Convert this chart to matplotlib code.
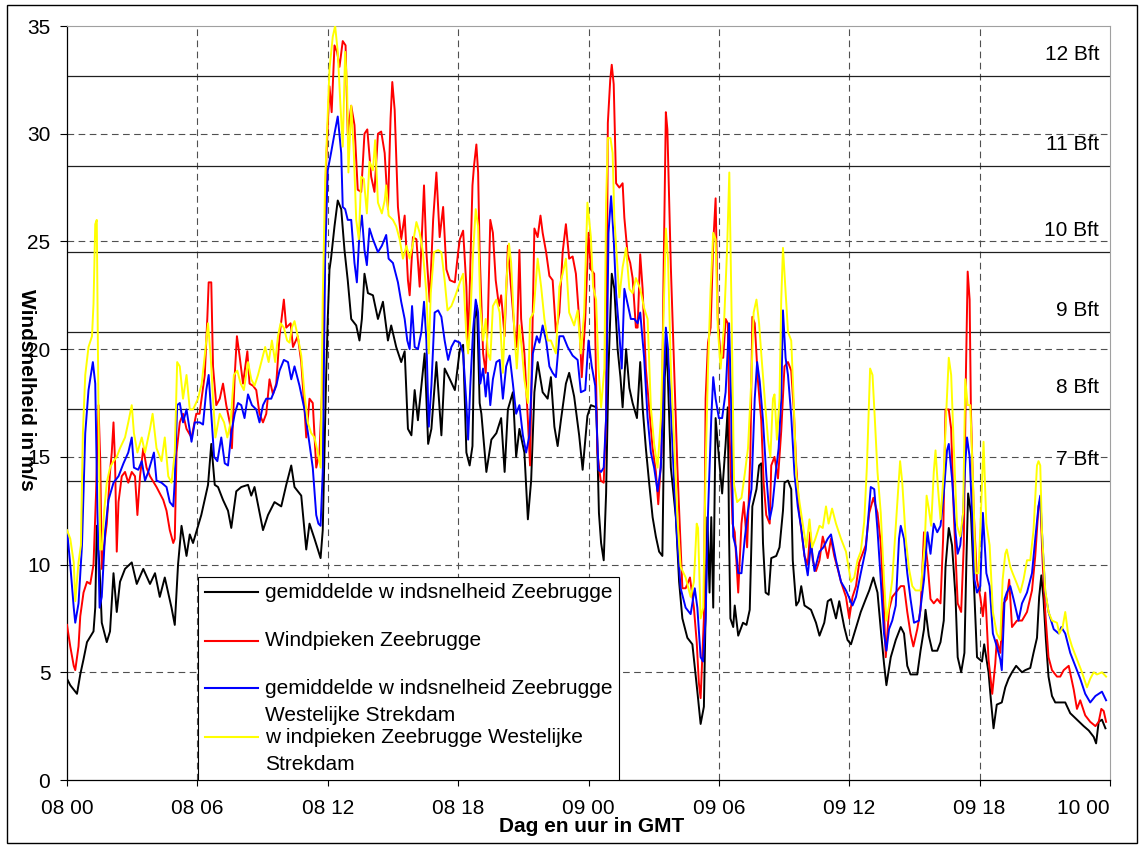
import matplotlib.pyplot as plt
import matplotlib.transforms as mtransforms
from matplotlib.patches import Rectangle

plt.rcParams['font.family'] = ['Liberation Sans', 'DejaVu Sans']
plt.rcParams['font.size'] = 15

# uren na 08 00 GMT
t_mean_zb = [0.0, 0.15, 0.46, 0.61, 0.76, 0.92, 1.22, 1.30, 1.37, 1.50, 1.60, 1.83, 1.98, 2.14, 2.29, 2.44, 2.67, 2.98, 3.21, 3.51, 3.82, 4.05, 4.27, 4.50, 4.81, 4.96, 5.11, 5.27, 5.50, 5.65, 5.80,
             6.18, 6.49, 6.64, 6.80, 6.95, 7.18, 7.41, 7.56, 7.79, 8.02, 8.33, 8.48, 8.63, 9.02, 9.25, 9.55, 9.86, 10.09, 10.32, 10.47, 10.78, 11.01, 11.16, 11.39, 11.67, 11.77, 11.93,
             12.0, 12.08, 12.15, 12.31, 12.46, 12.62, 12.77, 12.92, 13.08, 13.31, 13.46, 13.57, 13.69, 13.85, 14.08, 14.31, 14.54, 14.77, 14.92, 15.15, 15.38, 15.54, 15.69, 15.85, 16.0, 16.15, 16.31, 16.46, 16.62, 16.77, 17.0, 17.23, 17.38, 17.62, 17.85, 18.08,
             18.23, 18.38, 18.53, 18.66, 18.76, 18.87, 18.99, 19.07, 19.22, 19.30, 19.53, 19.76, 19.98, 20.14, 20.29, 20.52, 20.67, 20.82, 21.05, 21.21, 21.36, 21.51, 21.66, 21.89, 22.12, 22.27, 22.43, 22.58, 22.73, 22.96, 23.11, 23.34, 23.57, 23.73, 23.95, 24.11, 24.36, 24.48, 24.58, 24.70,
             24.81, 24.92, 25.07, 25.19, 25.34, 25.47, 25.57, 25.73, 25.88, 26.03, 26.23, 26.38, 26.49, 26.64, 26.79, 26.95, 27.10, 27.25, 27.40, 27.51, 27.60, 27.79, 28.02, 28.17, 28.32, 28.55, 28.78, 29.01, 29.16, 29.31, 29.47, 29.57, 29.65, 29.74, 29.85, 30.0, 30.15, 30.31, 30.41,
             30.47, 30.53, 30.66, 30.73, 30.89, 31.11, 31.27, 31.42, 31.54, 31.73, 31.85, 31.95, 32.03, 32.15, 32.29, 32.41, 32.64, 32.79, 32.95, 33.02, 33.18, 33.33, 33.40, 33.56, 33.68, 33.79, 33.94, 34.24, 34.47, 34.63, 34.85, 35.01, 35.16, 35.39, 35.54, 35.77, 35.92, 36.08, 36.23,
             36.53, 36.76, 36.92, 37.11, 37.30, 37.45, 37.60, 37.71, 37.91, 38.14, 38.37, 38.52, 38.67, 38.82, 39.13, 39.28, 39.44, 39.51, 39.66, 39.82, 40.05, 40.20, 40.35, 40.43, 40.58, 40.73, 40.89, 40.99, 41.15, 41.30, 41.39, 41.47, 41.60, 41.73, 41.88, 42.11, 42.21, 42.41, 42.52, 42.64, 42.79,
             43.02, 43.18, 43.33, 43.49, 43.68, 43.95, 44.10, 44.33, 44.48, 44.64, 44.74, 44.84, 44.94, 45.05, 45.17, 45.33, 45.48, 45.71, 45.94, 46.17, 46.48, 46.79, 47.02, 47.25, 47.36, 47.48, 47.63, 47.79]
mean_zb = [4.7, 4.4, 4.0, 4.9, 5.6, 6.4, 6.9, 8.0, 11.8, 9.8, 7.3, 6.4, 6.9, 9.6, 7.8, 9.2, 9.8, 10.1, 9.1, 9.8, 9.1, 9.6, 8.5, 9.4, 8.0, 7.2, 10.0, 11.8, 10.4, 11.4, 11.0,
           12.3, 13.7, 15.6, 13.7, 13.6, 13.0, 12.5, 11.7, 13.4, 13.6, 13.7, 13.2, 13.6, 11.6, 12.3, 12.9, 12.7, 13.7, 14.6, 13.6, 13.2, 10.7, 11.9, 11.2, 10.3, 11.6, 18.9,
           21.4, 23.7, 24.2, 25.7, 26.9, 26.5, 24.6, 23.2, 21.4, 21.1, 20.4, 21.4, 23.5, 22.6, 22.5, 21.4, 22.2, 20.4, 21.1, 20.1, 19.4, 19.9, 16.3, 16.0, 18.1, 16.7, 18.3, 19.8, 15.6, 16.3, 19.4, 16.0, 19.1, 18.6, 18.1, 20.0,
           20.2, 15.2, 14.6, 15.5, 21.4, 22.0, 17.5, 17.0, 15.2, 14.3, 15.8, 16.1, 16.8, 14.3, 17.2, 18.0, 15.0, 16.3, 15.2, 12.1, 13.9, 18.0, 19.4, 18.0, 17.7, 18.7, 16.4, 15.5, 16.7, 18.4, 18.9, 17.8, 16.0, 14.4, 16.9, 17.4, 17.3, 12.4, 11.0, 10.2,
           13.3, 19.1, 23.5, 22.8, 20.0, 18.7, 17.3, 20.0, 18.2, 17.5, 16.8, 19.4, 17.3, 15.4, 13.8, 12.2, 11.3, 10.6, 10.4, 18.7, 20.3, 14.5, 12.2, 9.2, 7.5, 6.6, 6.3, 4.1, 2.6, 3.4, 12.2, 8.7, 12.2, 8.0, 16.8, 15.0, 13.3, 15.6, 17.3,
           11.3, 7.5, 7.1, 8.1, 6.7, 7.3, 7.2, 7.9, 12.7, 13.5, 14.6, 14.7, 11.0, 8.7, 8.6, 10.3, 10.4, 10.8, 12.5, 13.8, 13.9, 13.5, 10.2, 8.1, 8.3, 9.0, 8.1, 7.9, 7.3, 6.7, 7.3, 8.3, 8.4, 7.5, 8.3, 7.1, 6.5, 6.3, 6.8,
           7.8, 8.4, 8.8, 9.4, 8.7, 7.0, 5.4, 4.4, 5.7, 6.5, 7.1, 6.8, 5.3, 4.9, 4.9, 6.0, 7.0, 7.9, 6.7, 6.0, 6.0, 6.4, 7.4, 9.9, 11.7, 10.9, 8.5, 5.7, 5.0, 5.9, 10.1, 13.3, 12.4, 9.3, 5.7, 5.5, 6.3, 5.0, 3.7, 2.4, 3.5,
           3.6, 4.3, 4.7, 5.0, 5.3, 5.0, 5.1, 5.2, 5.9, 6.6, 8.5, 9.5, 8.4, 6.5, 4.8, 3.9, 3.6, 3.6, 3.6, 3.1, 2.8, 2.5, 2.3, 2.0, 1.7, 2.7, 2.8, 2.4]

t_gust_zb = [0.0, 0.15, 0.31, 0.38, 0.53, 0.61, 0.76, 0.92, 1.07, 1.22, 1.34, 1.45, 1.53, 1.60, 1.71, 1.83, 1.98, 2.06, 2.14, 2.21, 2.29, 2.37, 2.52, 2.67, 2.82, 2.98, 3.13, 3.24, 3.36, 3.51, 3.66, 3.82, 4.12, 4.43, 4.58, 4.73, 4.89, 4.96, 5.04, 5.19, 5.34, 5.50, 5.73, 5.95,
             6.10, 6.34, 6.46, 6.52, 6.64, 6.72, 6.87, 7.03, 7.18, 7.33, 7.49, 7.59, 7.72, 7.82, 7.94, 8.10, 8.30, 8.40, 8.56, 8.71, 8.86, 9.02, 9.17, 9.32, 9.48, 9.63, 9.78, 9.98, 10.09, 10.29, 10.40, 10.62, 10.78, 10.93, 11.01, 11.16, 11.31, 11.47, 11.62, 11.77, 11.92,
             12.08, 12.18, 12.31, 12.43, 12.54, 12.69, 12.82, 12.92, 13.08, 13.23, 13.38, 13.54, 13.69, 13.82, 14.0, 14.15, 14.31, 14.46, 14.62, 14.77, 14.89, 14.97, 15.08, 15.23, 15.38, 15.54, 15.69, 15.77, 15.92, 16.08, 16.23, 16.43, 16.54, 16.69, 16.85, 17.0, 17.15, 17.31, 17.46, 17.62, 17.85, 18.0,
             18.08, 18.23, 18.38, 18.46, 18.53, 18.66, 18.73, 18.84, 18.92, 18.99, 19.15, 19.27, 19.37, 19.48, 19.60, 19.73, 19.88, 19.98, 20.14, 20.29, 20.44, 20.60, 20.70, 20.82, 20.90, 21.05, 21.21, 21.31, 21.40, 21.51, 21.66, 21.79, 21.89, 22.05, 22.20, 22.35, 22.50, 22.66, 22.81, 22.96, 23.11, 23.27, 23.42, 23.57, 23.69, 23.85, 24.0, 24.11, 24.26,
             24.41, 24.56, 24.70, 24.81, 24.89, 25.0, 25.07, 25.16, 25.27, 25.42, 25.57, 25.65, 25.80, 25.92, 26.03, 26.18, 26.26, 26.38, 26.49, 26.64, 26.79, 26.95, 27.10, 27.21, 27.36, 27.45, 27.56, 27.63, 27.79, 27.94, 28.09, 28.32, 28.47, 28.67, 28.85, 28.98, 29.08, 29.16, 29.31, 29.39, 29.50, 29.62, 29.74, 29.85, 29.95, 30.08, 30.20, 30.31, 30.41,
             30.50, 30.63, 30.73, 30.89, 31.04, 31.15, 31.30, 31.45, 31.54, 31.65, 31.80, 31.95, 32.06, 32.18, 32.34, 32.41, 32.56, 32.72, 32.87, 33.02, 33.18, 33.33, 33.44, 33.56, 33.71, 33.94, 34.09, 34.20, 34.32, 34.47, 34.63, 34.78, 34.90, 35.01, 35.16, 35.31, 35.47, 35.62, 35.85, 36.0, 36.15,
             36.31, 36.46, 36.61, 36.76, 36.92, 37.11, 37.30, 37.45, 37.60, 37.68, 37.83, 37.98, 38.14, 38.37, 38.52, 38.67, 38.82, 38.95, 39.13, 39.28, 39.44, 39.60, 39.74, 39.89, 40.05, 40.20, 40.32, 40.43, 40.58, 40.69, 40.81, 40.99, 41.15, 41.27, 41.37, 41.45, 41.54, 41.60, 41.73, 41.88, 42.03, 42.15, 42.26, 42.41, 42.58, 42.72,
             42.79, 42.95, 43.10, 43.25, 43.36, 43.49, 43.72, 43.95, 44.18, 44.41, 44.56, 44.71, 44.79, 44.90, 45.02, 45.17, 45.33, 45.56, 45.71, 45.87, 46.10, 46.33, 46.48, 46.63, 46.86, 47.09, 47.33, 47.48, 47.60, 47.71, 47.82]
gust_zb = [7.2, 6.2, 5.3, 5.1, 6.2, 7.6, 8.7, 9.2, 9.1, 10.0, 13.4, 17.4, 14.8, 9.8, 10.9, 11.9, 14.3, 15.2, 16.6, 14.8, 10.6, 12.9, 14.1, 14.3, 13.8, 14.3, 14.1, 12.3, 14.1, 15.4, 14.5, 14.1, 13.6, 13.0, 12.5, 11.6, 11.0, 11.2, 15.2, 16.6, 17.0, 16.3, 15.9, 17.0,
           17.0, 18.8, 21.5, 23.1, 23.1, 19.2, 17.4, 17.7, 18.4, 17.4, 16.6, 15.4, 18.8, 20.6, 19.7, 18.4, 19.9, 18.4, 18.3, 18.1, 17.0, 16.6, 17.0, 18.6, 17.9, 18.4, 20.6, 22.3, 21.0, 21.2, 20.1, 20.6, 19.4, 17.2, 15.9, 17.7, 17.5, 14.5, 15.2, 18.8, 28.5,
           32.2, 31.0, 34.1, 33.8, 33.1, 34.3, 34.1, 30.0, 31.3, 30.4, 27.4, 27.3, 30.0, 30.2, 28.0, 27.3, 30.0, 30.1, 29.1, 26.5, 30.7, 32.4, 31.1, 26.6, 25.1, 26.2, 23.2, 22.5, 25.2, 25.1, 22.9, 27.6, 24.5, 22.2, 26.0, 28.2, 25.2, 26.6, 23.7, 23.2, 23.1, 24.5,
           25.1, 25.5, 22.9, 20.0, 22.6, 27.6, 28.5, 29.5, 28.2, 24.5, 19.8, 18.9, 21.4, 26.0, 25.4, 23.2, 22.0, 22.5, 20.6, 24.8, 22.8, 20.8, 20.1, 24.6, 21.4, 19.8, 16.7, 14.6, 19.8, 25.6, 25.2, 26.2, 25.4, 24.5, 23.4, 23.2, 20.8, 21.7, 24.5, 25.8, 24.2, 24.3, 23.5, 21.4, 18.7, 21.4, 25.4, 23.7, 23.5,
           15.2, 13.9, 13.8, 16.8, 30.5, 32.5, 33.2, 32.3, 27.7, 27.5, 27.7, 26.1, 24.4, 24.0, 23.3, 21.0, 21.0, 24.4, 22.8, 19.1, 17.3, 15.4, 14.3, 12.8, 15.2, 23.1, 31.0, 30.2, 23.8, 19.1, 14.5, 8.9, 8.9, 9.4, 8.0, 6.4, 4.5, 3.8, 7.5, 17.7, 20.3, 21.0, 24.9, 27.0, 21.4, 19.6, 19.6, 21.4, 21.2,
           15.8, 11.9, 11.5, 8.7, 11.9, 12.9, 10.8, 15.2, 21.5, 21.2, 18.5, 16.7, 13.8, 12.3, 11.9, 14.6, 15.0, 14.0, 16.2, 19.2, 19.4, 19.0, 17.3, 14.6, 12.3, 10.4, 10.0, 11.5, 10.2, 9.7, 10.2, 11.3, 10.8, 10.3, 11.2, 10.4, 9.8, 9.2, 8.5, 7.5, 8.5,
           9.0, 10.1, 10.5, 10.9, 12.4, 13.1, 12.4, 11.0, 7.8, 5.7, 7.9, 8.5, 8.7, 9.0, 9.0, 7.8, 6.8, 6.2, 7.0, 7.9, 11.5, 10.1, 8.4, 8.2, 8.4, 8.2, 11.2, 17.2, 17.2, 16.3, 12.4, 8.2, 7.8, 10.9, 18.9, 23.6, 22.3, 17.1, 12.4, 9.3, 8.5, 7.6, 8.7, 5.6, 4.0, 5.4,
           6.5, 5.9, 8.2, 8.4, 9.3, 7.1, 7.4, 7.4, 7.8, 8.8, 10.4, 12.7, 13.0, 10.1, 7.8, 5.7, 5.1, 4.8, 4.8, 5.1, 5.3, 4.2, 3.3, 3.7, 3.0, 2.7, 2.5, 2.7, 3.3, 3.2, 2.7]

t_mean_wsd = [0.0, 0.15, 0.31, 0.38, 0.53, 0.69, 0.84, 0.99, 1.10, 1.19, 1.30, 1.40, 1.50, 1.60, 1.76, 1.91, 2.14, 2.37, 2.60, 2.82, 2.98, 3.08, 3.28, 3.44, 3.59, 3.74, 4.0, 4.12, 4.35, 4.58, 4.73, 4.89, 4.96, 5.07, 5.19, 5.34, 5.50, 5.73, 5.88,
              6.11, 6.26, 6.41, 6.52, 6.64, 6.77, 6.92, 7.10, 7.26, 7.41, 7.56, 7.72, 7.87, 8.02, 8.17, 8.33, 8.51, 8.71, 8.86, 9.02, 9.17, 9.40, 9.63, 9.78, 9.98, 10.17, 10.32, 10.47, 10.70, 10.93, 11.16, 11.31, 11.47, 11.57, 11.67, 11.77, 11.88,
              12.0, 12.15, 12.31, 12.46, 12.62, 12.69, 12.80, 12.92, 13.08, 13.23, 13.34, 13.46, 13.57, 13.69, 13.80, 13.92, 14.08, 14.31, 14.49, 14.69, 14.80, 15.0, 15.23, 15.38, 15.54, 15.66, 15.77, 15.88, 16.0, 16.15, 16.31, 16.43, 16.54, 16.65, 16.77, 16.92, 17.08, 17.23, 17.38, 17.54, 17.69, 17.85, 18.08,
              18.23, 18.38, 18.46, 18.56, 18.69, 18.81, 18.92, 19.02, 19.15, 19.27, 19.37, 19.48, 19.60, 19.76, 19.91, 20.06, 20.21, 20.37, 20.52, 20.67, 20.82, 20.98, 21.13, 21.28, 21.44, 21.62, 21.74, 21.89, 22.05, 22.20, 22.35, 22.50, 22.66, 22.84, 23.04, 23.27, 23.50, 23.65, 23.85, 24.0, 24.15, 24.31, 24.46,
              24.58, 24.70, 24.81, 24.92, 25.04, 25.16, 25.27, 25.42, 25.53, 25.65, 25.80, 25.95, 26.11, 26.26, 26.38, 26.56, 26.72, 26.87, 27.02, 27.18, 27.33, 27.45, 27.56, 27.66, 27.79, 27.94, 28.09, 28.24, 28.47, 28.70, 28.89, 29.01, 29.16, 29.27, 29.39, 29.50, 29.65, 29.74, 29.85, 30.0, 30.15, 30.31, 30.47, 30.56,
              30.66, 30.78, 30.89, 31.04, 31.19, 31.34, 31.50, 31.65, 31.76, 31.88, 32.03, 32.18, 32.34, 32.46, 32.61, 32.75, 32.87, 32.95, 33.07, 33.18, 33.33, 33.48, 33.63, 33.79, 33.94, 34.09, 34.24, 34.40, 34.63, 34.81, 35.01, 35.16, 35.39, 35.62, 35.85, 36.15, 36.31,
              36.53, 36.76, 36.87, 36.99, 37.15, 37.30, 37.45, 37.60, 37.71, 37.83, 37.98, 38.14, 38.29, 38.37, 38.52, 38.67, 38.82, 38.98, 39.21, 39.44, 39.60, 39.74, 39.89, 40.05, 40.20, 40.35, 40.50, 40.58, 40.73, 40.89, 40.99, 41.11, 41.24, 41.34, 41.42, 41.54, 41.65, 41.76, 41.88, 42.03, 42.15, 42.31, 42.46, 42.61, 42.79,
              42.95, 43.02, 43.15, 43.25, 43.41, 43.56, 43.79, 43.95, 44.18, 44.41, 44.56, 44.71, 44.79, 44.90, 45.02, 45.17, 45.41, 45.64, 45.76, 45.94, 46.17, 46.40, 46.63, 46.86, 47.09, 47.33, 47.48, 47.63, 47.82]
mean_wsd = [11.6, 10.0, 8.0, 7.3, 8.2, 10.9, 16.1, 18.1, 18.8, 19.4, 18.4, 12.5, 8.0, 8.5, 11.6, 13.0, 13.8, 14.1, 14.7, 15.2, 15.9, 14.5, 14.4, 14.8, 13.9, 14.3, 15.2, 13.9, 13.8, 13.6, 12.9, 12.7, 13.9, 17.4, 17.5, 16.6, 17.2, 15.7, 16.6,
            16.6, 16.5, 18.1, 18.8, 17.0, 15.0, 14.8, 15.9, 14.7, 14.6, 16.1, 17.0, 17.5, 17.4, 16.8, 17.9, 17.4, 17.2, 16.6, 17.4, 17.7, 17.7, 18.3, 19.0, 19.5, 19.4, 18.6, 19.2, 18.3, 17.2, 15.6, 14.5, 12.3, 11.9, 11.8, 14.3, 24.2,
            28.3, 29.1, 30.0, 30.8, 29.1, 26.6, 26.5, 26.0, 26.0, 24.0, 23.1, 25.4, 26.2, 24.6, 23.9, 25.6, 25.1, 24.5, 24.8, 25.3, 24.2, 24.0, 23.1, 22.2, 21.4, 20.4, 20.0, 22.0, 20.1, 20.0, 20.8, 22.2, 20.4, 16.4, 18.3, 21.7, 21.8, 21.5, 20.4, 19.5, 20.1, 20.4, 20.3,
            19.8, 17.5, 15.8, 18.3, 20.9, 22.3, 21.7, 18.4, 19.1, 17.8, 18.9, 17.4, 18.6, 19.4, 19.5, 17.7, 19.2, 19.7, 18.4, 17.0, 17.4, 16.0, 15.2, 16.0, 19.8, 20.6, 20.3, 21.1, 20.4, 19.2, 18.9, 18.7, 20.6, 20.6, 20.1, 19.7, 19.5, 18.0, 18.1, 20.4, 19.2, 18.3, 14.4,
            14.3, 14.5, 16.8, 25.4, 27.1, 25.1, 22.6, 20.7, 19.1, 22.8, 22.1, 21.4, 21.4, 21.2, 21.7, 19.6, 16.8, 15.2, 14.5, 13.4, 14.5, 18.0, 21.0, 20.0, 17.3, 13.8, 11.0, 8.9, 8.0, 7.7, 8.9, 8.0, 5.7, 5.5, 7.5, 12.4, 16.8, 18.7, 17.7, 16.8, 16.8, 18.0, 21.2, 17.7,
            11.3, 10.8, 9.6, 9.6, 11.2, 12.5, 13.5, 17.7, 19.4, 18.5, 16.7, 14.2, 12.1, 12.7, 14.2, 15.4, 17.7, 21.8, 19.6, 18.8, 16.9, 14.2, 12.7, 11.7, 10.4, 9.5, 11.0, 9.7, 10.6, 10.8, 11.2, 11.4, 10.2, 9.2, 8.8, 8.1, 8.5,
            9.6, 10.7, 12.1, 13.6, 13.5, 11.6, 9.3, 6.8, 6.0, 7.0, 7.4, 8.1, 11.2, 11.8, 11.2, 9.6, 8.4, 7.3, 7.4, 9.3, 11.5, 10.5, 11.9, 11.5, 11.8, 13.3, 15.3, 15.6, 14.0, 11.5, 10.5, 10.9, 12.4, 14.7, 15.9, 15.0, 12.4, 9.3, 8.7, 9.0, 12.4, 9.6, 9.0, 6.8, 6.2,
            5.6, 5.1, 8.4, 8.7, 9.0, 8.4, 7.4, 8.2, 8.7, 9.6, 11.2, 12.7, 13.2, 10.9, 8.7, 7.8, 7.0, 6.8, 7.1, 6.8, 5.9, 5.3, 4.7, 4.0, 3.6, 3.9, 4.0, 4.1, 3.7]

t_gust_wsd = [0.0, 0.15, 0.31, 0.38, 0.53, 0.64, 0.73, 0.84, 0.99, 1.15, 1.22, 1.30, 1.37, 1.45, 1.53, 1.60, 1.71, 1.83, 1.98, 2.14, 2.29, 2.44, 2.67, 2.82, 2.98, 3.08, 3.24, 3.44, 3.59, 3.82, 3.94, 4.12, 4.35, 4.50, 4.66, 4.81, 4.96, 5.07, 5.19, 5.34, 5.50, 5.65, 5.80, 6.03,
              6.20, 6.34, 6.49, 6.61, 6.72, 6.83, 7.03, 7.23, 7.38, 7.53, 7.68, 7.84, 7.99, 8.14, 8.33, 8.48, 8.63, 8.79, 8.94, 9.12, 9.28, 9.43, 9.58, 9.71, 9.83, 9.98, 10.13, 10.24, 10.35, 10.47, 10.62, 10.78, 10.93, 11.08, 11.24, 11.39, 11.54, 11.67, 11.77, 11.88,
              12.08, 12.23, 12.34, 12.46, 12.58, 12.69, 12.80, 12.89, 12.95, 13.08, 13.20, 13.31, 13.43, 13.54, 13.66, 13.80, 13.92, 14.08, 14.18, 14.31, 14.49, 14.62, 14.69, 14.80, 15.0, 15.15, 15.31, 15.46, 15.62, 15.77, 15.92, 16.08, 16.23, 16.38, 16.54, 16.65, 16.74, 16.89, 17.08, 17.23, 17.38, 17.51, 17.69, 17.88, 18.08,
              18.23, 18.38, 18.46, 18.56, 18.69, 18.81, 18.92, 19.02, 19.15, 19.27, 19.37, 19.48, 19.60, 19.76, 19.91, 20.06, 20.21, 20.34, 20.44, 20.60, 20.70, 20.82, 20.95, 21.05, 21.21, 21.31, 21.47, 21.66, 21.82, 21.97, 22.12, 22.27, 22.50, 22.66, 22.81, 22.96, 23.11, 23.34, 23.50, 23.65, 23.80, 23.95, 24.11, 24.21,
              24.35, 24.46, 24.58, 24.73, 24.81, 24.89, 25.01, 25.11, 25.19, 25.31, 25.42, 25.57, 25.73, 25.88, 26.03, 26.18, 26.38, 26.56, 26.72, 26.87, 27.02, 27.18, 27.33, 27.45, 27.56, 27.66, 27.79, 27.94, 28.09, 28.24, 28.47, 28.70, 28.85, 28.98, 29.04, 29.16, 29.28, 29.39, 29.50, 29.62, 29.74, 29.85, 29.95, 30.08, 30.23, 30.38, 30.48, 30.58, 30.70,
              30.84, 31.04, 31.19, 31.34, 31.50, 31.60, 31.73, 31.85, 31.95, 32.11, 32.26, 32.37, 32.49, 32.56, 32.67, 32.79, 32.87, 32.95, 33.07, 33.18, 33.33, 33.44, 33.56, 33.71, 33.86, 34.02, 34.17, 34.29, 34.44, 34.63, 34.78, 34.93, 35.05, 35.21, 35.39, 35.62, 35.85, 36.08, 36.23,
              36.38, 36.53, 36.69, 36.81, 36.87, 36.96, 37.07, 37.18, 37.30, 37.45, 37.60, 37.71, 37.83, 37.98, 38.14, 38.24, 38.34, 38.44, 38.60, 38.75, 38.90, 39.05, 39.28, 39.47, 39.56, 39.66, 39.77, 39.89, 39.97, 40.08, 40.20, 40.35, 40.47, 40.58, 40.69, 40.81, 40.96, 41.11, 41.24, 41.34, 41.45, 41.57, 41.69, 41.82, 41.95, 42.06, 42.18, 42.31, 42.46, 42.61, 42.79,
              42.95, 43.06, 43.18, 43.25, 43.41, 43.52, 43.72, 43.87, 44.02, 44.18, 44.33, 44.48, 44.64, 44.71, 44.79, 44.87, 45.02, 45.17, 45.33, 45.56, 45.67, 45.82, 45.94, 46.07, 46.25, 46.48, 46.71, 46.94, 47.09, 47.25, 47.40, 47.63, 47.82]
gust_wsd = [11.6, 11.2, 10.1, 8.3, 10.1, 10.9, 16.1, 18.8, 20.1, 20.6, 22.1, 25.8, 26.0, 17.0, 10.7, 10.7, 12.5, 13.8, 14.5, 14.8, 15.0, 15.4, 15.9, 16.6, 17.4, 16.1, 15.2, 15.9, 15.2, 16.3, 17.0, 15.4, 14.8, 15.9, 14.1, 13.8, 15.2, 19.4, 19.2, 17.7, 18.8, 17.2, 17.2, 17.7,
            18.4, 19.7, 21.2, 19.7, 17.7, 15.9, 17.0, 16.6, 15.9, 16.6, 18.8, 19.0, 18.4, 18.1, 19.4, 18.6, 18.3, 18.8, 19.4, 20.1, 19.4, 20.4, 19.4, 20.6, 21.2, 21.0, 20.4, 20.3, 21.0, 21.3, 20.6, 19.7, 17.9, 16.6, 16.1, 15.9, 15.2, 14.5, 22.4, 27.8,
            33.0, 34.5, 35.0, 33.8, 31.4, 29.4, 33.8, 32.2, 28.2, 31.3, 29.1, 26.0, 25.1, 28.0, 27.9, 26.3, 28.7, 28.3, 29.7, 26.8, 26.3, 26.9, 27.6, 26.2, 26.0, 25.7, 25.1, 24.2, 24.8, 24.2, 24.9, 25.9, 25.4, 24.5, 22.6, 19.8, 22.6, 24.5, 24.6, 24.5, 23.2, 21.8, 22.0, 22.5, 23.1,
            23.5, 20.6, 19.8, 21.4, 24.5, 26.5, 25.7, 22.0, 20.4, 21.4, 19.8, 19.5, 22.0, 22.3, 21.7, 18.9, 22.9, 24.9, 24.0, 20.6, 19.1, 21.1, 19.8, 18.6, 17.5, 21.4, 21.7, 24.2, 22.9, 21.4, 20.4, 20.4, 19.8, 22.9, 23.5, 24.2, 21.7, 21.1, 21.8, 19.8, 21.7, 26.8, 25.2, 22.9,
            22.3, 19.1, 17.3, 19.1, 26.8, 29.8, 29.8, 29.1, 26.1, 24.2, 22.4, 23.8, 24.7, 22.8, 22.6, 23.3, 22.8, 21.9, 21.4, 17.3, 15.6, 14.5, 16.8, 21.4, 25.6, 24.2, 19.1, 15.6, 12.2, 9.9, 9.4, 8.5, 9.2, 11.9, 11.7, 7.5, 8.0, 14.5, 19.1, 22.8, 25.4, 25.1, 21.0, 19.1, 21.0, 24.7, 28.2, 22.0, 13.7,
            12.9, 13.1, 14.2, 15.4, 18.7, 21.7, 22.3, 21.2, 19.8, 17.7, 15.8, 15.0, 17.7, 17.9, 15.8, 17.7, 22.3, 24.7, 22.7, 20.8, 20.4, 17.7, 14.2, 12.9, 11.9, 10.8, 12.1, 10.8, 11.2, 11.8, 11.7, 12.7, 11.9, 12.6, 11.9, 11.2, 10.6, 9.2, 9.4,
            10.2, 10.6, 12.0, 14.5, 16.3, 19.1, 18.8, 16.7, 14.3, 12.4, 9.3, 7.4, 8.1, 9.3, 11.8, 13.3, 14.8, 13.8, 11.2, 9.8, 9.0, 8.8, 8.8, 10.9, 13.2, 12.6, 11.8, 14.3, 15.3, 13.6, 12.1, 14.3, 17.2, 19.6, 18.8, 15.5, 11.8, 11.3, 12.4, 18.6, 17.4, 17.4, 14.0, 9.6, 9.6, 12.4, 15.7, 11.9, 10.9, 7.8, 6.8,
            6.5, 9.3, 10.5, 10.7, 9.9, 9.6, 9.1, 8.7, 9.3, 10.2, 10.2, 11.6, 14.6, 14.8, 14.6, 11.5, 8.8, 7.8, 7.4, 7.3, 6.8, 7.1, 7.8, 6.8, 6.2, 5.6, 5.0, 4.3, 4.7, 5.0, 4.9, 5.0, 4.8]

series_labels = ['gemiddelde w indsnelheid Zeebrugge',
                 'Windpieken Zeebrugge',
                 'gemiddelde w indsnelheid Zeebrugge\nWestelijke Strekdam',
                 'w indpieken Zeebrugge Westelijke\nStrekdam']
series_colors = ['black', '#ff0000', '#0000ff', '#ffff00']

bft_limits = [13.9, 17.2, 20.8, 24.5, 28.5, 32.7]
bft_labels = ['7 Bft', '8 Bft', '9 Bft', '10 Bft', '11 Bft', '12 Bft']

x_ticks = [0, 6, 12, 18, 24, 30, 36, 42, 48]
x_labels = ['08 00', '08 06', '08 12', '08 18', '09 00', '09 06', '09 12', '09 18', '10 00']

W, H = 1144, 848
fig = plt.figure(figsize=(W / 100, H / 100), dpi=100)
ax = fig.add_axes([67 / W, 68 / H, 1043 / W, 754 / H])

series = [(t_mean_zb, mean_zb), (t_gust_zb, gust_zb), (t_mean_wsd, mean_wsd), (t_gust_wsd, gust_wsd)]
for (t, v), c in zip(series, series_colors):
    ax.plot(t, v, color=c, lw=1.4, zorder=3)

for b in bft_limits:
    ax.axhline(b, color='#202020', lw=0.9, zorder=1)

trans = mtransforms.blended_transform_factory(ax.transAxes, ax.transData)
for b, lab in zip(bft_limits, bft_labels):
    ax.text(0.9895, b + 1.0, lab, transform=trans, ha='right', va='center', zorder=4)

ax.set_xlim(0, 48)
ax.set_ylim(0, 35)
ax.set_xticks(x_ticks)
ax.set_xticklabels(x_labels)
ax.get_xticklabels()[-1].set_ha('right')
ax.set_yticks(range(0, 40, 5))

ax.grid(True, color='#505050', lw=0.8, linestyle=(0, (6, 4)), zorder=0)
ax.set_axisbelow(True)
ax.yaxis.get_gridlines()[0].set_visible(False)
ax.yaxis.get_gridlines()[-1].set_visible(False)
ax.xaxis.get_gridlines()[0].set_visible(False)
ax.xaxis.get_gridlines()[-1].set_visible(False)

ax.tick_params(axis='x', direction='out', length=4, width=0.8, pad=10)
ax.tick_params(axis='y', direction='out', length=5, width=0.8, pad=7)
for s in ['top', 'right']:
    ax.spines[s].set_color('#a0a0a0')
    ax.spines[s].set_linewidth(0.8)
for s in ['left', 'bottom']:
    ax.spines[s].set_color('black')
    ax.spines[s].set_linewidth(0.9)

# legenda zoals in Excel: vaste rijhoogte, tekst loopt door
ax.add_patch(Rectangle((0.1256, 0.0), 0.404, 0.269, transform=ax.transAxes,
                       facecolor='white', edgecolor='black', lw=0.8, zorder=10))
rows = [0.2493, 0.1844, 0.1220, 0.0570]
line_step = 0.0358
for lab, c, y in zip(series_labels, series_colors, rows):
    ax.plot([0.1323, 0.1831], [y, y], color=c, lw=1.5, transform=ax.transAxes, zorder=11)
    for i, part in enumerate(lab.split('\n')):
        ax.text(0.1898, y - i * line_step, part, transform=ax.transAxes,
                ha='left', va='center', zorder=11)

fig.text(26 / W, 1 - 390 / H, 'Windsnelheid in m/s', rotation=-90,
         ha='center', va='center', fontweight='bold')
fig.text(592 / W, 1 - 826 / H, 'Dag en uur in GMT', ha='center', va='center', fontweight='bold')

fig.patches.append(Rectangle((7 / W, 5 / H), 1130 / W, 838 / H, transform=fig.transFigure,
                             fill=False, edgecolor='black', lw=1))

fig.savefig('out.png', dpi=100)
